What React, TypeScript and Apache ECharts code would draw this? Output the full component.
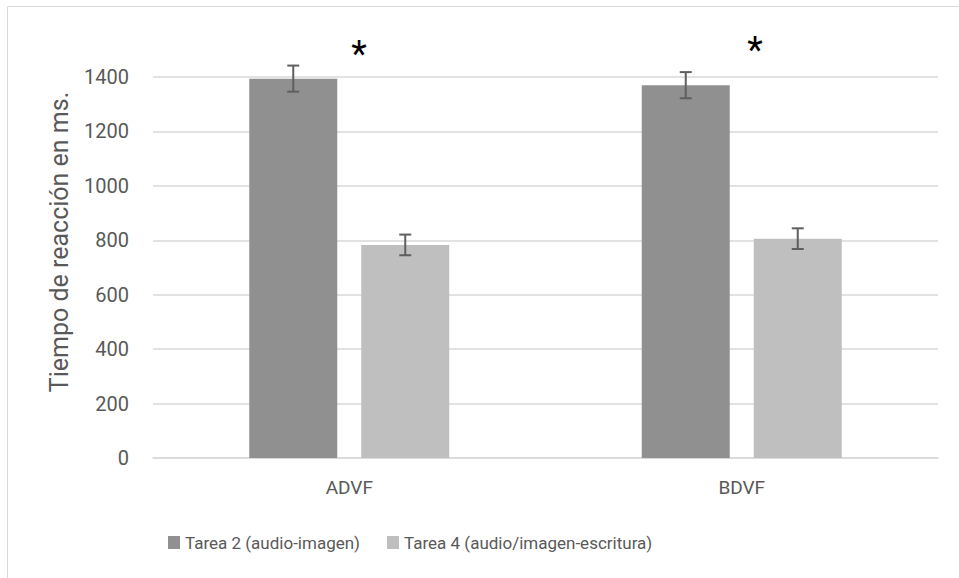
import React, { useEffect, useRef } from "react";
import * as echarts from "echarts";

const categories = ["ADVF", "BDVF"];
const seriesNames = ["Tarea 2 (audio-imagen)", "Tarea 4 (audio/imagen-escritura)"];
const tarea2Values = [1394, 1370];
const tarea2Errors = [48, 48];
const tarea4Values = [783, 806];
const tarea4Errors = [38, 38];
const yTicks = [0, 200, 400, 600, 800, 1000, 1200, 1400];
const significance = ["*", "*"];

const FONT = "Roboto, 'Noto Sans', sans-serif";
const TEXT = "#595959";

export default function App() {
  const ref = useRef<HTMLDivElement>(null);
  useEffect(() => {
    document.body.style.margin = "0";
    const chart = echarts.init(ref.current!, null, { renderer: "svg" });
    const BAR_W = 88;
    const GAP = 24;
    const half = (BAR_W + GAP) / 2;
    const errSeries = (values: number[], errors: number[], idx: number) => ({
      type: "custom",
      silent: true,
      clip: false,
      z: 5,
      data: values.map((v, i) => [i, v, errors[i]]),
      renderItem: (params: any, api: any) => {
        const c = api.value(0);
        const v = api.value(1);
        const e = api.value(2);
        const off = (idx === 0 ? -1 : 1) * half;
        const hi = api.coord([c, v + e]);
        const lo = api.coord([c, v - e]);
        const x = hi[0] + off;
        const style = { stroke: "#5f5f5f", lineWidth: 2 };
        return {
          type: "group",
          children: [
            { type: "line", shape: { x1: x, y1: hi[1], x2: x, y2: lo[1] }, style },
            { type: "line", shape: { x1: x - 6, y1: hi[1], x2: x + 6, y2: hi[1] }, style },
            { type: "line", shape: { x1: x - 6, y1: lo[1], x2: x + 6, y2: lo[1] }, style },
          ],
        };
      },
    });
    chart.setOption({
      animation: false,
      backgroundColor: "#ffffff",
      textStyle: { fontFamily: FONT },
      grid: { left: 153, right: 21, top: 77, bottom: 120, containLabel: false },
      xAxis: {
        type: "category",
        data: categories,
        axisLine: { show: true, lineStyle: { color: "#d9d9d9", width: 1.5 } },
        axisTick: { show: false },
        axisLabel: { color: TEXT, fontSize: 19, margin: 20, fontFamily: FONT },
      },
      yAxis: {
        type: "value",
        min: 0,
        max: yTicks[yTicks.length - 1],
        interval: 200,
        axisLine: { show: false },
        axisTick: { show: false },
        axisLabel: { color: TEXT, fontSize: 20, margin: 24, fontFamily: FONT, formatter: (v: number) => String(v) },
        splitLine: { lineStyle: { color: "#d9d9d9", width: 1.5 } },
      },
      legend: {
        left: 168,
        top: 534,
        padding: 0,
        itemWidth: 12,
        itemHeight: 13,
        itemGap: 27,
        icon: "rect",
        textStyle: { color: TEXT, fontSize: 17, fontFamily: FONT },
        data: seriesNames,
      },
      series: [
        {
          name: seriesNames[0],
          type: "bar",
          data: tarea2Values,
          barWidth: BAR_W,
          barGap: (GAP / BAR_W) * 100 + "%",
          itemStyle: { color: "#909090" },
        },
        {
          name: seriesNames[1],
          type: "bar",
          data: tarea4Values,
          barWidth: BAR_W,
          barGap: (GAP / BAR_W) * 100 + "%",
          itemStyle: { color: "#bfbfbf" },
        },
        errSeries(tarea2Values, tarea2Errors, 0),
        errSeries(tarea4Values, tarea4Errors, 1),
      ],
      graphic: [
        {
          type: "rect",
          shape: { x: 7.5, y: 6.5, width: 1200, height: 1200 },
          style: { fill: "none", stroke: "#d9d9d9", lineWidth: 1 },
          silent: true,
        },
        {
          type: "text",
          x: 59,
          y: 242,
          rotation: Math.PI / 2,
          style: {
            text: "Tiempo de reacción en ms.",
            fill: TEXT,
            fontSize: 25,
            fontFamily: FONT,
            align: "center",
            verticalAlign: "middle",
          },
        },
        {
          type: "text",
          x: 359,
          y: 54,
          style: { text: significance[0], fill: "#000", fontSize: 36, fontFamily: FONT, align: "center", verticalAlign: "middle" },
        },
        {
          type: "text",
          x: 755,
          y: 50,
          style: { text: significance[1], fill: "#000", fontSize: 36, fontFamily: FONT, align: "center", verticalAlign: "middle" },
        },
      ],
    });
    return () => chart.dispose();
  }, []);
  return <div ref={ref} style={{ width: 959, height: 578 }} />;
}
